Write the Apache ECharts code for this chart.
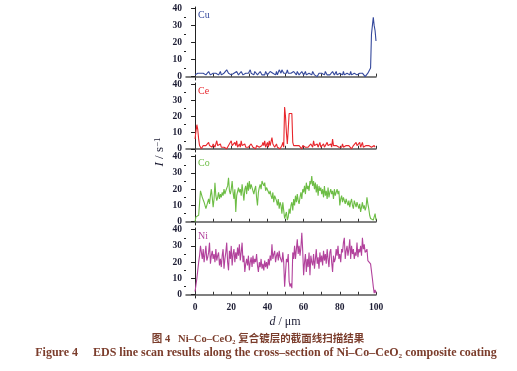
<!DOCTYPE html>
<html>
<head>
<meta charset="utf-8">
<script src="https://cdn.jsdelivr.net/npm/echarts@6/dist/echarts.min.js"></script>
<style>html,body{margin:0;padding:0;background:#fff;}#c{width:517px;height:371px;}</style>
</head>
<body>
<div id="c"></div>
<script>
// sample spacing along the scan (µm)
const STEP = 0.5;
const elements = ['Cu', 'Ce', 'Co', 'Ni'];
const cu = [1,2,1,2,3,1,2,1,3,2, 1,2,1,1,2,3,2,1,2,1, 2,1,3,2,1,2,1,2,3,1, 2,1,2,3,2,4,5,2,1,2,
  1,2,1,2,2,1,3,2,1,2, 1,3,2,1,2,1,2,3,1,2, 1,4,2,1,2,1,3,2,2,1, 2,1,3,2,1,0,2,1,3,2,
  1,2,1,3,2,4,2,1,2,1, 3,1,2,4,3,2,4,3,2,1, 3,2,4,2,1,3,2,1,2,3, 4,2,1,3,2,1,2,1,3,2,
  1,2,3,1,2,1,2,1,2,1, 3,2,1,2,1,0,1,2,1,3, 2,1,2,1,3,2,1,2,2,1, 2,1,3,2,1,2,3,1,2,1,
  2,1,2,1,3,1,2,1,2,1, 2,1,3,1,2,1,2,1,2,1, 2,1,2,1,1,2,1,2,0,1, 1,2,1,3,5,25,24,35,30,27, 21];
const ce = [6,11,15,12,6,2,1,0,1,2, 1,3,2,1,2,4,2,1,2,1, 3,2,1,2,5,2,1,2,3,1, 2,1,1,2,1,0,1,2,1,3,
  5,2,3,1,4,2,5,1,2,3, 1,5,2,1,2,3,1,2,0,1, 2,1,3,2,1,2,1,0,2,1, 3,1,2,1,2,4,2,5,1,2,
  4,1,5,2,1,7,3,2,1,2, 3,1,2,1,0,1,2,4,1,26, 20,10,3,12,22,23,23,22,4,2, 3,1,2,3,1,2,3,1,0,2,
  1,2,1,1,0,1,2,1,3,2, 1,5,2,1,2,3,1,2,4,1, 2,1,3,1,2,1,4,2,1,2, 3,1,6,2,1,3,2,1,2,1,
  0,2,1,3,1,2,1,2,3,1, 2,1,2,0,1,2,3,1,4,2, 1,3,4,1,2,4,1,2,1,2, 3,1,2,1,2,1,2,1,2,1, 2];
const co = [0,3,4,4,4,5,19,17,15,14, 12,13,8,10,12,14,11,16,20,15, 9,14,24,16,13,15,18,14,17,15, 18,16,20,17,19,18,22,27,19,17,
  20,25,18,14,20,6,16,15,21,18, 20,16,23,18,13,20,22,17,24,19, 25,20,23,21,22,17,20,22,15,10, 18,21,23,20,25,26,22,24,19,21,
  20,22,17,19,16,14,18,12,16,15, 13,10,14,8,12,10,5,12,7,2, 4,6,1,3,8,5,10,12,7,14, 10,16,12,17,13,11,15,18,14,20,
  18,22,17,24,20,22,19,25,23,28, 22,25,20,24,18,23,16,22,19,21, 17,20,15,22,16,19,14,21,15,18, 20,17,19,14,20,16,18,20,17,19,
  10,14,16,12,15,13,11,14,12,10, 13,9,12,14,10,8,13,11,9,12, 10,8,11,6,9,12,8,10,7,9, 15,11,8,4,2,3,2,1,3,5, 1];
const ni = [2,6,10,15,20,24,30,26,22,28, 20,25,30,21,23,26,32,19,24,27, 22,25,20,28,21,24,26,18,22,17, 24,28,16,22,26,32,20,15,27,22,
  30,18,25,28,20,26,22,29,24,31, 21,26,32,20,24,14,19,22,18,24, 15,20,23,17,24,19,22,20,25,18, 14,20,17,22,16,19,15,21,17,20,
  16,22,18,24,21,31,22,25,27,20, 24,26,21,27,23,24,20,26,20,5, 6,22,20,25,8,5,7,4,26,22, 30,22,28,34,25,30,24,29,38,27,
  12,20,25,14,22,17,26,12,24,20, 18,25,16,22,28,19,23,16,26,20, 24,18,27,21,25,19,28,22,17,26, 28,20,14,24,20,22,28,24,30,22,
  25,20,28,26,32,35,22,27,30,24, 28,34,22,30,25,28,22,26,24,32, 23,28,26,30,24,35,28,31,26,25, 28,21,22,20,19,20,10,5,1,3, 1];
const seriesValues = [cu, ce, co, ni];
const xTicks = [0, 10, 20, 30, 40, 50, 60, 70, 80, 90, 100];
const xLabels = [0, 20, 40, 60, 80, 100];
const yTicks = [0, 10, 20, 30, 40];
const yMinor = [5, 15, 25, 35];

const colors = ['#34489c', '#e8262c', '#6dbd45', '#b2429c'];
const panels = [
  {top: 7, height: 73},
  {top: 83, height: 69},
  {top: 155, height: 70},
  {top: 228, height: 70}
];
const labelFont = {fontFamily: 'Liberation Serif', fontSize: 9.5, fontWeight: 'bold', color: '#1c1c33'};

const grid = [], xAxis = [], yAxis = [], series = [], graphic = [];
panels.forEach((p, i) => {
  grid.push({left: 186, width: 190, top: p.top, height: p.height});
  xAxis.push({
    gridIndex: i, type: 'value', min: -5, max: 100,
    axisLine: {show: true, lineStyle: {color: '#555', width: 1.5}},
    axisTick: {show: true, inside: true, length: 3, customValues: xTicks, lineStyle: {color: '#333'}},
    axisLabel: Object.assign({show: i === 3, customValues: xLabels, margin: 5}, labelFont),
    splitLine: {show: false}
  });
  yAxis.push({
    gridIndex: i, type: 'value', min: -2, max: 41, position: 'left',
    axisLine: {show: true, lineStyle: {color: '#222', width: 1}},
    axisTick: {show: true, length: 4, customValues: yTicks, lineStyle: {color: '#222'}},
    axisLabel: Object.assign({customValues: yTicks, margin: 4}, labelFont),
    splitLine: {show: false}
  });
  yAxis.push({
    gridIndex: i, type: 'value', min: -2, max: 41, position: 'left',
    axisLine: {show: false},
    axisTick: {show: true, length: 2, customValues: yMinor, lineStyle: {color: '#222'}},
    axisLabel: {show: false},
    splitLine: {show: false}
  });
  series.push({
    type: 'line', name: elements[i], xAxisIndex: i, yAxisIndex: 2 * i,
    data: seriesValues[i].map((v, k) => [k * STEP, v]),
    showSymbol: false, symbol: 'none',
    lineStyle: {color: colors[i], width: 1.1},
    itemStyle: {color: colors[i]},
    animation: false
  });
  graphic.push({
    type: 'text', left: 198, top: p.top + 3,
    style: {text: elements[i], fill: colors[i], font: '10px "Liberation Serif"'}
  });
});

graphic.push({
  type: 'text', x: 160, y: 152, rotation: Math.PI / 2,
  style: {
    text: '{i|I} / s{sup|−1}',
    align: 'center', verticalAlign: 'middle',
    rich: {
      i: {font: 'italic 13px "Liberation Serif"', fill: '#1c1c33'},
      sup: {font: '9px "Liberation Serif"', fill: '#1c1c33', verticalAlign: 'top', lineHeight: 12}
    },
    font: '13px "Liberation Serif"', fill: '#1c1c33'
  }
});
graphic.push({
  type: 'text', x: 285, y: 322,
  style: {
    text: '{i|d} / μm', align: 'center', verticalAlign: 'middle',
    rich: {i: {font: 'italic 12px "Liberation Serif"', fill: '#1c1c33'}},
    font: '12px "Liberation Serif"', fill: '#1c1c33'
  }
});
graphic.push({
  type: 'text', x: 258, y: 339,
  style: {
    text: '图 4   Ni–Co–CeO₂ 复合镀层的截面线扫描结果', align: 'center', verticalAlign: 'middle',
    font: 'bold 10.5px "Liberation Serif", "Noto Sans CJK SC"', fill: '#7b3d2c'
  }
});
graphic.push({
  type: 'text', x: 266, y: 353,
  style: {
    text: 'Figure 4　 EDS line scan results along the cross–section of Ni–Co–CeO₂ composite coating',
    align: 'center', verticalAlign: 'middle',
    font: 'bold 12px "Liberation Serif"', fill: '#7b3d2c'
  }
});

const chart = echarts.init(document.getElementById('c'), null, {renderer: 'canvas'});
chart.setOption({animation: false, grid, xAxis, yAxis, series, graphic});
</script>
</body>
</html>
